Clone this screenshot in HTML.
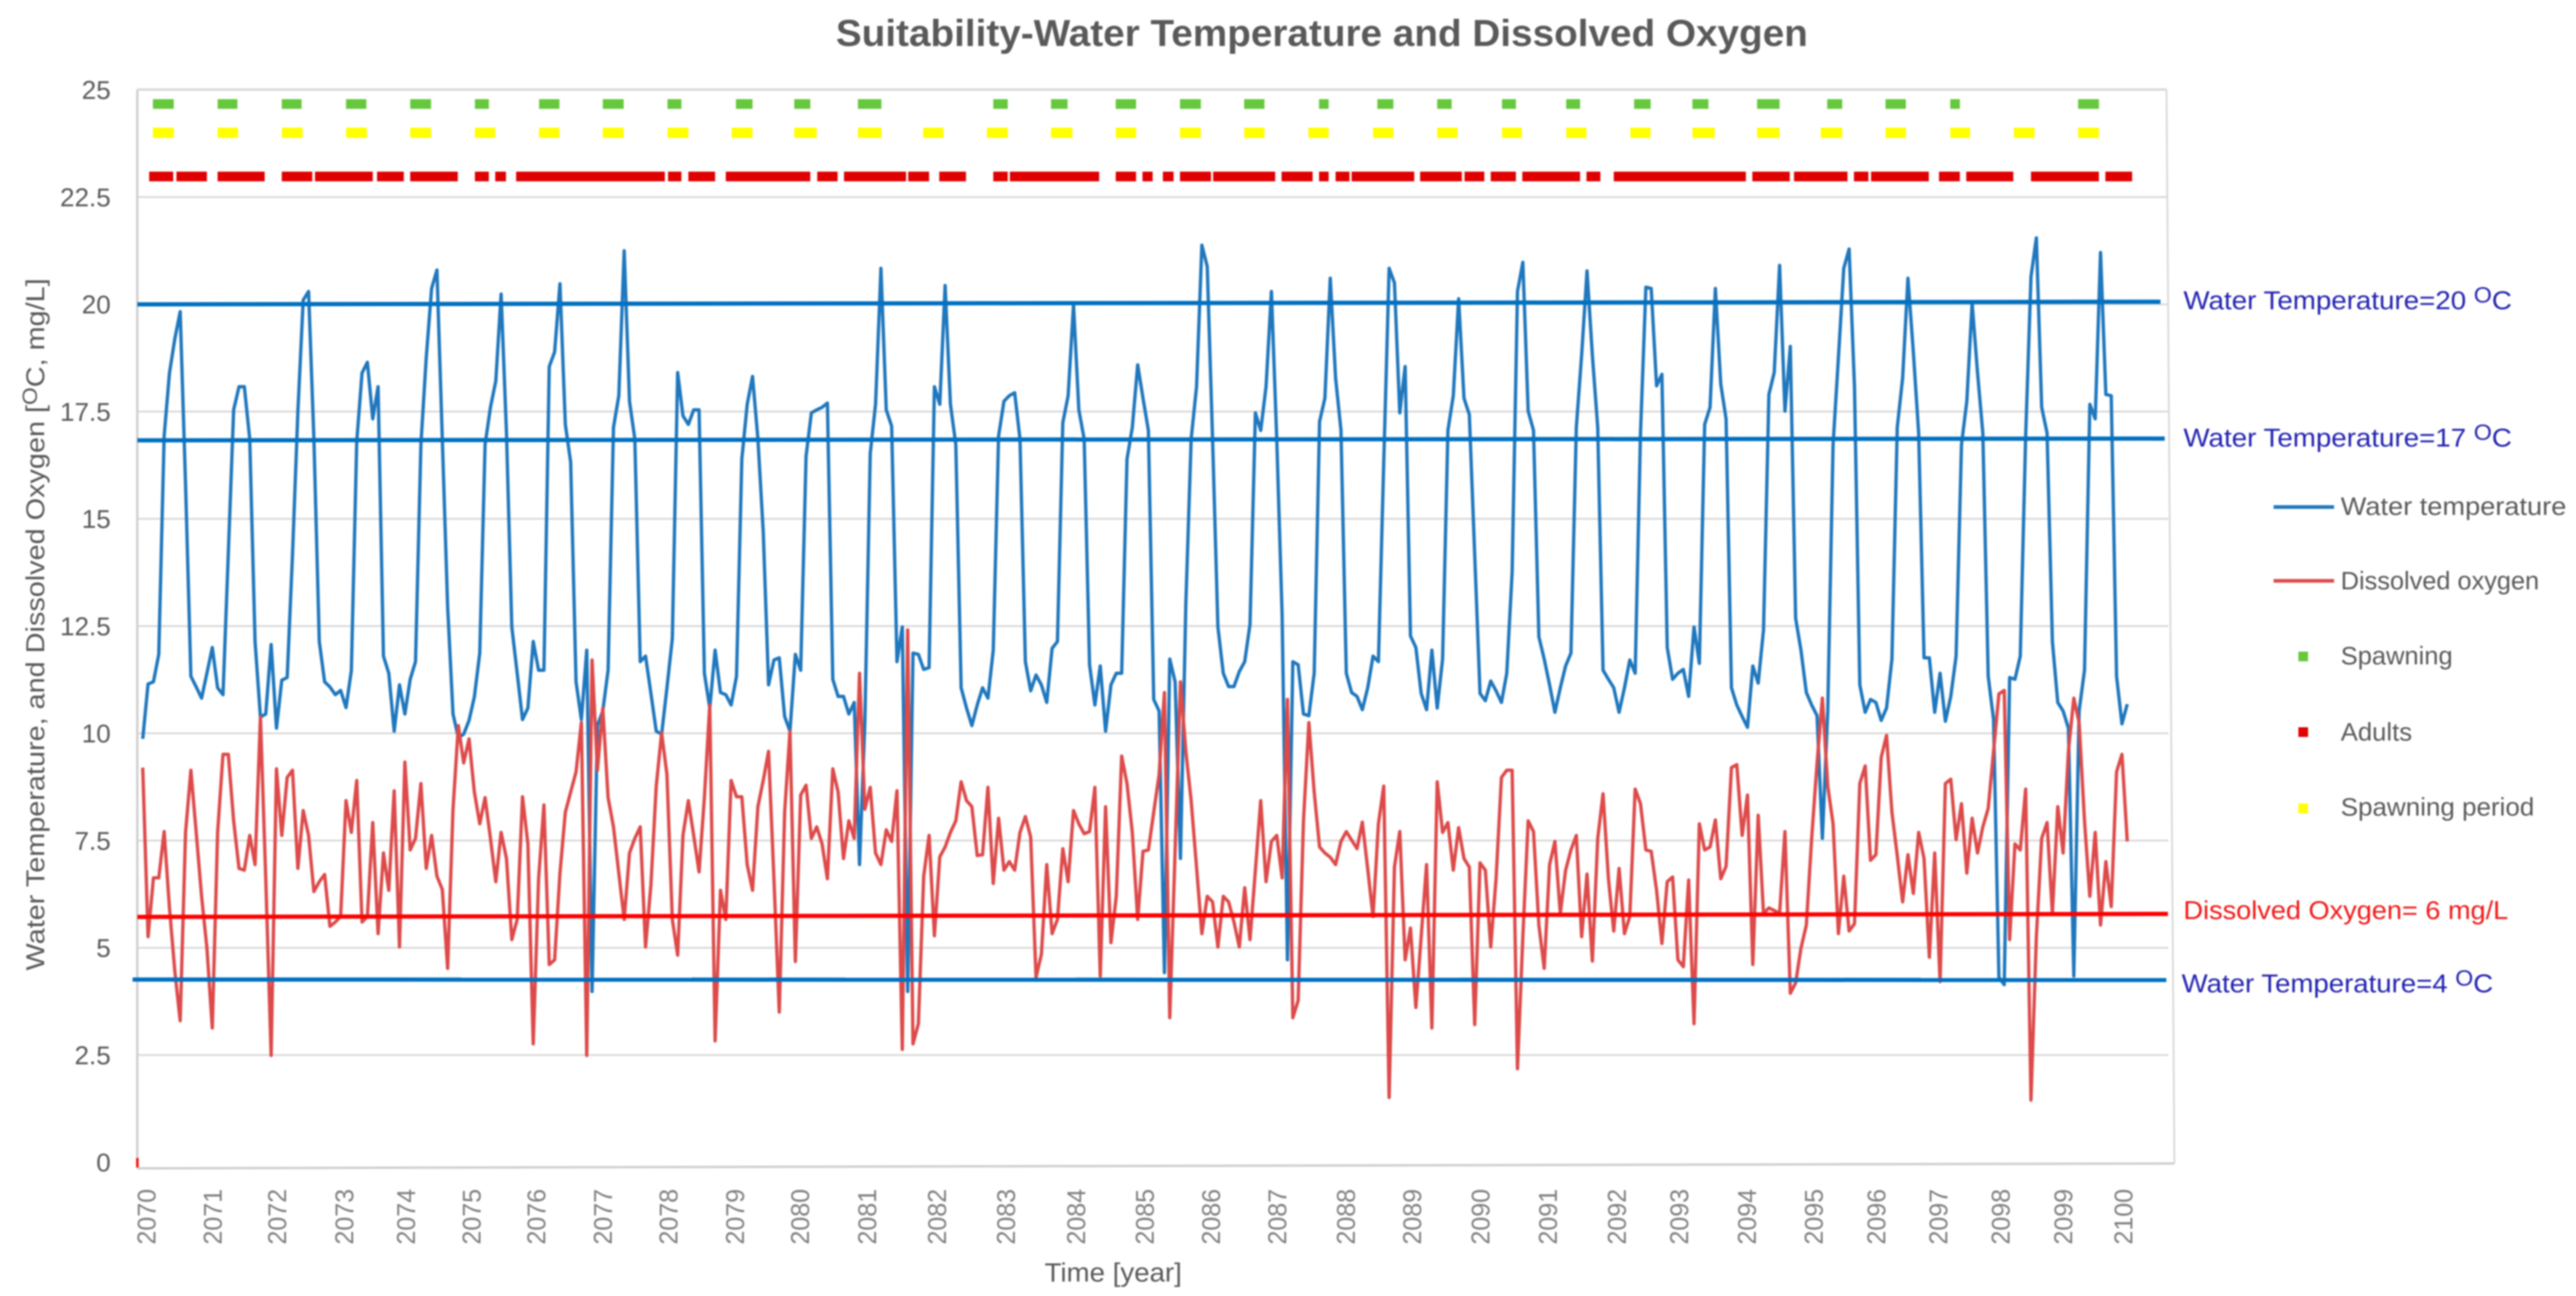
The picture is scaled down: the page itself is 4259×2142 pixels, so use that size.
<!DOCTYPE html>
<html lang="en">
<head>
<meta charset="utf-8">
<title>Suitability-Water Temperature and Dissolved Oxygen</title>
<style>
html,body{margin:0;padding:0;background:#fff}
svg{display:block;filter:blur(1.2px)}
text{font-family:"Liberation Sans",sans-serif}
</style>
</head>
<body>
<svg id="chart" xmlns="http://www.w3.org/2000/svg" width="4259" height="2142" viewBox="0 0 4259 2142">
  <rect x="0" y="0" width="4259" height="2142" fill="#ffffff"/>
  <text x="1382" y="76" font-size="62" font-weight="700" fill="#595959" textLength="1607" lengthAdjust="spacingAndGlyphs">Suitability-Water Temperature and Dissolved Oxygen</text>
  <g id="grid"></g>
  <line x1="227" y1="148" x2="227" y2="1931" stroke="#d0d0d0" stroke-width="4"/>
  <line x1="227" y1="148" x2="3582" y2="148" stroke="#d9d9d9" stroke-width="4"/>
  <line x1="3582" y1="148" x2="3595" y2="1923" stroke="#d9d9d9" stroke-width="3"/>
  <line x1="227" y1="1931" x2="3595" y2="1923" stroke="#d0d0d0" stroke-width="4"/>
  <g id="yticks"></g>
  <g id="xticks"></g>
  <g id="series"></g>
  <g id="runs"></g>
  <g id="refs"></g>
  <text transform="translate(73 1604) rotate(-90)" font-size="43" fill="#595959" textLength="1144" lengthAdjust="spacingAndGlyphs">Water Temperature, and Dissolved Oxygen [<tspan font-size="34" dy="-12">O</tspan><tspan dy="12">C, mg/L]</tspan></text>
  <text x="1727" y="2118" font-size="44" fill="#595959" textLength="227" lengthAdjust="spacingAndGlyphs">Time [year]</text>

  <text x="3610" y="511" font-size="43" fill="#2222b0" textLength="543" lengthAdjust="spacingAndGlyphs">Water Temperature=20 <tspan font-size="36" dy="-11">O</tspan><tspan dy="11">C</tspan></text>
  <text x="3610" y="738" font-size="43" fill="#2222b0" textLength="543" lengthAdjust="spacingAndGlyphs">Water Temperature=17 <tspan font-size="36" dy="-11">O</tspan><tspan dy="11">C</tspan></text>
  <text x="3610" y="1519" font-size="43" fill="#f01818" textLength="537" lengthAdjust="spacingAndGlyphs">Dissolved Oxygen= 6 mg/L</text>
  <text x="3607" y="1640" font-size="43" fill="#2222b0" textLength="515" lengthAdjust="spacingAndGlyphs">Water Temperature=4 <tspan font-size="36" dy="-11">O</tspan><tspan dy="11">C</tspan></text>

  <g>
    <g>
      <line x1="3759" y1="838" x2="3859" y2="838" stroke="#1f77bd" stroke-width="6"/>
      <text x="3870" y="851" font-size="42" fill="#595959" textLength="373" lengthAdjust="spacingAndGlyphs">Water temperature</text>
    </g>
    <g>
      <line x1="3759" y1="960" x2="3859" y2="960" stroke="#dd4a4a" stroke-width="6"/>
      <text x="3870" y="974" font-size="42" fill="#595959" textLength="328" lengthAdjust="spacingAndGlyphs">Dissolved oxygen</text>
    </g>
    <g>
      <rect x="3800" y="1077" width="16" height="16" fill="#66c83c"/>
      <text x="3870" y="1098" font-size="42" fill="#595959" textLength="185" lengthAdjust="spacingAndGlyphs">Spawning</text>
    </g>
    <g>
      <rect x="3800" y="1202" width="16" height="16" fill="#e00000"/>
      <text x="3870" y="1224" font-size="42" fill="#595959" textLength="118" lengthAdjust="spacingAndGlyphs">Adults</text>
    </g>
    <g>
      <rect x="3800" y="1328" width="16" height="16" fill="#ffff00"/>
      <text x="3870" y="1348" font-size="42" fill="#595959" textLength="320" lengthAdjust="spacingAndGlyphs">Spawning period</text>
    </g>
  </g>
</svg>
<script>
const yTickValues = [0,2.5,5,7.5,10,12.5,15,17.5,20,22.5,25];
const yTickLabels = ["0","2.5","5","7.5","10","12.5","15","17.5","20","22.5","25"];
const gridValues = [2.5,5,7.5,10,12.5,15,17.5,20,22.5];
const yearLabels = ["2070","2071","2072","2073","2074","2075","2076","2077","2078","2079","2080","2081","2082","2083","2084","2085","2086","2087","2088","2089","2090","2091","2092","2093","2094","2095","2096","2097","2098","2099","2100"];
const yearSampleIndex = [0,12.4,24.4,37,48.5,60.8,72.9,85.3,97.6,110,122.2,134.7,147.8,160.7,173.8,186.6,199,211.4,224.2,236.6,249.4,262,274.9,286.5,299.2,311.7,323.4,335,346.6,358.3,369.6];

const waterTemperature = [
9.87,11.15,11.2,11.84,16.93,18.4,19.2,19.83,15.8,11.33,11.08,10.82,11.4,12.0,11.06,10.9,14.2,17.54,18.08,18.08,16.86,12.14,10.38,10.45,12.07,10.12,11.24,11.3,14.16,17.5,20.1,20.3,16.86,12.14,11.2,11.08,10.9,11.0,10.6,11.46,16.8,18.4,18.65,17.33,18.08,11.8,11.4,10.05,11.13,10.45,11.26,11.67,16.73,18.75,20.37,20.8,16.86,12.95,10.45,9.9,9.98,10.3,10.85,
11.87,16.73,17.6,18.21,20.24,17.0,12.48,11.4,10.32,10.59,12.14,11.47,11.47,18.55,18.89,20.48,17.2,16.32,11.2,10.32,11.94,3.98,10.18,10.52,11.47,17.13,17.87,21.25,17.74,16.86,11.67,11.8,10.93,10.05,9.98,11.06,12.21,18.41,17.4,17.2,17.54,17.54,11.4,10.59,11.94,10.95,10.9,10.66,11.33,16.39,17.67,18.32,16.86,14.7,11.13,11.71,11.76,10.39,10.05,11.84,11.47,16.46,17.47,
17.54,17.6,17.7,11.26,10.86,10.86,10.45,10.72,6.94,10.25,16.52,17.67,20.84,17.54,17.16,11.67,12.48,3.98,11.87,11.84,11.49,11.53,18.08,17.67,20.44,17.67,16.73,11.06,10.59,10.18,10.66,11.06,10.82,11.94,16.93,17.74,17.87,17.94,16.86,11.67,10.99,11.36,11.13,10.72,11.98,12.14,17.24,17.87,19.99,17.54,16.86,11.6,10.66,11.57,10.05,11.13,11.4,11.4,16.39,17.13,18.59,17.81,17.06,10.79,
10.52,4.42,11.73,11.2,7.08,13.02,16.86,18.08,21.38,20.88,16.86,12.48,11.4,11.09,11.09,11.44,11.67,12.54,17.47,17.06,18.08,20.3,16.86,12.75,4.72,11.67,11.6,10.45,10.41,11.4,17.27,17.81,20.61,18.28,17.06,11.4,10.95,10.86,10.55,11.06,11.8,11.67,16.32,20.84,20.5,17.47,18.55,12.27,12.0,10.93,10.55,11.94,10.59,11.73,17.06,17.87,20.13,17.81,17.43,14.16,10.93,10.76,11.22,
10.99,10.72,11.4,13.76,20.3,20.98,17.51,17.06,12.25,11.73,11.13,10.49,11.06,11.57,11.87,17.13,18.82,20.78,18.82,17.13,11.47,11.26,11.06,10.49,11.06,11.71,11.4,17.0,20.4,20.37,18.1,18.37,12.0,11.26,11.4,11.49,10.86,12.48,11.63,17.2,17.6,20.37,18.14,17.33,11.06,10.66,10.39,10.14,11.57,11.17,12.41,17.9,18.41,20.91,17.51,19.02,12.68,11.94,10.95,10.66,10.41,7.55,10.52,
16.73,18.75,20.84,21.29,18.08,11.13,10.49,10.79,10.72,10.3,10.59,11.73,17.13,18.28,20.61,18.89,17.0,11.76,11.76,10.49,11.4,10.28,10.86,11.8,16.73,17.74,20.03,18.41,17.0,11.33,10.32,4.31,4.14,11.3,11.26,11.8,16.93,20.64,21.55,17.6,17.0,12.14,10.72,10.52,10.12,4.34,10.52,11.47,17.67,17.33,21.21,17.9,17.87,11.33,10.22,10.68
];

const dissolvedOxygen = [
9.2,5.26,6.63,6.63,7.71,5.93,4.45,3.3,7.69,9.14,7.69,6.2,5.0,3.13,7.69,9.51,9.51,7.96,6.85,6.81,7.62,6.94,10.38,6.61,2.49,9.17,7.62,8.97,9.14,6.85,8.2,7.62,6.31,6.54,6.71,5.5,5.6,5.73,8.43,7.69,8.9,5.6,5.73,7.92,5.33,7.21,6.34,8.66,5.02,9.33,7.28,7.55,8.83,6.85,7.62,6.67,6.36,4.52,8.23,10.18,9.31,9.87,8.63,
7.89,8.5,7.55,6.54,7.69,7.08,5.19,5.66,8.52,7.42,2.76,6.61,8.33,4.61,4.72,6.74,8.16,8.63,9.1,10.25,2.49,11.71,9.14,10.59,8.5,7.82,6.74,5.66,7.21,7.55,7.82,5.02,6.47,8.77,10.01,9.04,5.66,4.83,7.62,8.43,7.62,6.77,8.5,10.66,2.83,6.34,5.66,8.9,8.52,8.52,6.94,6.34,8.29,8.9,9.58,6.61,3.5,8.16,10.05,4.68,8.56,8.79,7.55,
7.82,7.42,6.61,9.17,8.63,7.08,7.96,7.55,11.4,8.23,8.74,7.21,6.94,7.75,7.48,8.66,2.63,12.41,2.76,3.23,6.67,7.62,5.28,7.12,7.35,7.69,7.96,8.87,8.43,8.29,7.15,7.17,8.74,6.5,8.02,6.81,7.01,6.81,7.69,8.06,7.58,4.31,4.85,6.94,5.33,5.66,7.31,6.54,8.2,7.89,7.66,7.71,8.74,4.34,8.29,5.12,6.2,9.47,8.83,7.69,5.66,7.25,7.28,8.16,
9.04,10.95,3.37,7.28,11.2,9.58,8.43,6.88,5.33,6.2,6.07,5.02,6.2,6.07,5.6,5.02,6.4,5.19,6.81,8.43,6.54,7.48,7.62,6.63,10.79,3.37,3.77,7.96,10.25,8.63,7.35,7.21,7.11,6.94,7.48,7.71,7.51,7.31,7.93,6.84,5.73,7.89,8.77,1.51,6.88,7.71,4.72,5.46,3.61,5.26,6.94,3.13,8.87,7.69,7.92,6.81,7.8,7.08,6.88,3.21,6.98,6.81,5.02,
6.61,8.97,9.14,9.14,2.18,5.26,7.96,7.71,5.53,4.52,6.94,7.48,5.8,6.81,7.28,7.62,5.26,6.72,4.69,7.55,8.59,6.61,5.39,6.85,5.33,5.73,8.7,8.36,7.28,7.25,6.34,5.1,6.54,6.65,4.72,4.56,6.58,3.23,7.89,7.28,7.35,7.98,6.61,6.9,9.2,9.27,7.62,8.56,4.61,8.09,5.8,5.93,5.87,5.8,7.71,3.94,4.18,4.99,5.53,7.55,9.3,10.82,8.77,
7.89,5.33,6.67,5.39,5.56,8.83,9.24,7.04,7.17,9.44,9.95,8.16,7.15,6.07,7.17,6.27,7.69,7.08,4.78,7.21,4.21,8.83,8.93,7.52,8.36,6.74,8.02,7.21,7.82,8.25,9.58,10.92,11.0,5.19,7.42,7.28,8.7,1.45,5.26,7.55,7.92,5.8,8.29,7.21,9.58,10.82,10.25,7.96,6.2,7.69,5.53,7.01,5.96,9.1,9.51,7.48
];

const spawningLevel = 24.67;
const spawningRuns = [[1.9,5.8],[14,17.7],[26,29.7],[38,41.8],[50,53.9],[62.1,64.7],[74.1,77.9],[86,89.9],[98.1,100.7],[110.9,114],[121.8,124.8],[133.7,138.1],[159,161.7],[169.8,172.9],[181.9,185.7],[193.9,197.8],[205.9,209.7],[219.9,221.7],[230.8,233.8],[242,244.7],[254.1,256.7],[266.1,268.7],[278.8,281.9],[289.7,292.7],[301.8,306],[314.9,317.7],[325.8,329.6],[337.9,339.7],[361.8,365.7]];

const spawningPeriodLevel = 24;
const spawningPeriodRuns = [[1.9,5.8],[14,17.8],[26,29.9],[38,41.9],[50,53.9],[62.1,65.9],[74.1,77.9],[86,89.9],[98.1,102],[110.1,114],[121.8,126],[133.7,138.1],[145.9,149.7],[157.8,161.7],[169.8,173.8],[181.9,185.7],[193.9,197.8],[205.9,209.7],[217.9,221.7],[230,233.8],[242,245.8],[254.1,257.8],[266.1,269.9],[278.1,281.9],[289.7,293.9],[301.8,306],[313.7,317.7],[325.8,329.6],[337.9,341.6],[349.8,353.7],[361.8,365.7]];

const adultsLevel = 22.98;
const adultsRuns = [[1.2,5.7],[6.3,12],[14,22.8],[26,31.7],[32.2,43],[43.8,48.8],[50,58.9],[62.1,64.7],[65.9,67.9],[69.8,97.6],[98.2,100.7],[102,107],[109,124.8],[126.1,129.9],[131.1,142.7],[143.1,147],[148.9,153.9],[159,161.7],[162.1,178.8],[181.9,185.7],[186.9,188.8],[190.7,192.7],[193.9,199.7],[200.1,211.7],[212.9,218.7],[219.9,221.7],[223,225.6],[226,237.7],[238.8,246.6],[247.1,250.8],[252,256.7],[257.9,268.7],[269.9,272.5],[275,299.7],[300.9,307.9],[308.7,318.7],[319.9,322.6],[323.1,333.9],[335.8,339.7],[340.9,349.7],[353,365.7],[366.9,371.9]];

const refNames = ["water-temperature-20","water-temperature-17","dissolved-oxygen-6","water-temperature-4"];
const refStartValues = [20.0,16.83,5.72,4.26];
const refEndValues = [20.06,16.87,5.79,4.25];
const refStartSamples = [-1,-1,-1,-1.9];
const refEndSamples = [377.2,378,378.6,378.3];
const refColors = ["#0070c0","#0070c0","#ff0000","#0070c0"];

const NS = "http://www.w3.org/2000/svg";
function x(i){ return 236 + i * 8.844; }
function y(v){ return 1921 - v * 70.9; }
function make(tag, parentId, attrs){
  const el = document.createElementNS(NS, tag);
  for (const k in attrs) el.setAttribute(k, attrs[k]);
  document.getElementById(parentId).appendChild(el);
  return el;
}

gridValues.forEach(function(v){
  const el = make("line", "grid", {x1:227, x2:3585, y1:y(v), y2:y(v), stroke:"#d9d9d9", "stroke-width":3});
  
  
});

yTickValues.forEach(function(v, k){
  const el = make("text", "yticks", {x:183, y:y(v)+15, "text-anchor":"end", "font-size":43, fill:"#595959"});
  el.textContent = yTickLabels[k];
  
  
});

yearLabels.forEach(function(label, k){
  const cx = x(yearSampleIndex[k]) + 5;
  const el = make("text", "xticks", {transform:"translate(" + (cx + 16) + " 1965) rotate(-90)", "text-anchor":"end", "font-size":43, fill:"#7f7f7f", textLength:92, lengthAdjust:"spacingAndGlyphs"});
  el.textContent = label;
  
  
});

function pointsOf(values){
  return values.map(function(v, i){ return x(i).toFixed(1) + "," + y(v).toFixed(1); }).join(" ");
}
const waterLine = make("polyline", "series", {points:pointsOf(waterTemperature), fill:"none", stroke:"#1f77bd", "stroke-width":5.5, "stroke-linejoin":"round"});


const oxygenLine = make("polyline", "series", {points:pointsOf(dissolvedOxygen), fill:"none", stroke:"#dd4a4a", "stroke-width":5.5, "stroke-linejoin":"round"});


const startStub = make("line", "series", {x1:x(-1), x2:x(-1), y1:y(0.1), y2:y(-0.12), stroke:"#ff0000", "stroke-width":4});



function drawRuns(runs, level, color, h, name){
  runs.forEach(function(r){
    const el = make("rect", "runs", {x:x(r[0]).toFixed(1), y:(y(level)-h/2).toFixed(1), width:(x(r[1])-x(r[0])).toFixed(1), height:h, fill:color});
    
    
  });
}
drawRuns(spawningRuns, spawningLevel, "#66c83c", 16, "spawning-marker-run");
drawRuns(spawningPeriodRuns, spawningPeriodLevel, "#ffff00", 17, "spawning-period-marker-run");
drawRuns(adultsRuns, adultsLevel, "#e00000", 16, "adults-marker-run");

refNames.forEach(function(n, k){
  const el = make("line", "refs", {x1:x(refStartSamples[k]), x2:x(refEndSamples[k]), y1:y(refStartValues[k]), y2:y(refEndValues[k]), stroke:refColors[k], "stroke-width":7});
  
  
});
</script>
</body>
</html>
